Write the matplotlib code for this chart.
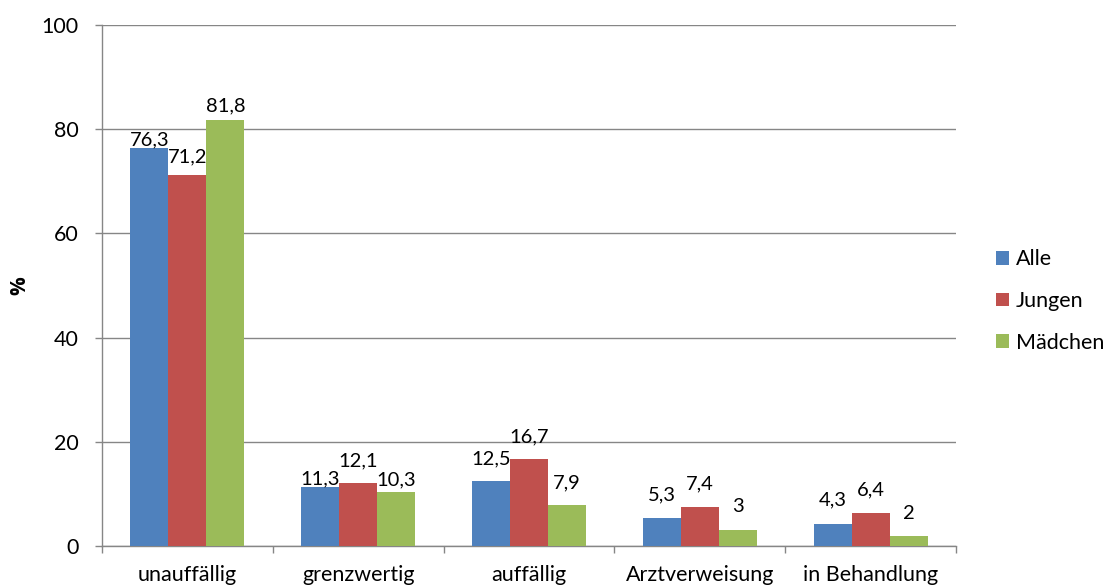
import matplotlib
matplotlib.use("Agg")
import matplotlib.pyplot as plt
import numpy as np

categories = ["unauffällig", "grenzwertig", "auffällig", "Arztverweisung", "in Behandlung"]
series_names = ["Alle", "Jungen", "Mädchen"]
alle = [76.3, 11.3, 12.5, 5.3, 4.3]
jungen = [71.2, 12.1, 16.7, 7.4, 6.4]
maedchen = [81.8, 10.3, 7.9, 3.0, 2.0]
y_ticks = [0, 20, 40, 60, 80, 100]

colors = ["#4F81BD", "#C0504D", "#9BBB59"]
# label vertical offsets (points) per series/category
label_offsets = [
    [0, 0, 10, 11, 11],
    [7, 10, 10, 11, 10],
    [4, 3, 10, 11, 10],
]

plt.rcParams['font.family'] = ['Lato', 'DejaVu Sans']

fig = plt.figure(figsize=(11.13, 5.87), dpi=100)
ax = fig.add_axes([102/1113, 1-546/587, (956-102)/1113, (546-25)/587])

x = np.arange(len(categories))
w = 1/4.5
data = [alle, jungen, maedchen]
gray = "#868686"

for i, (vals, name, c) in enumerate(zip(data, series_names, colors)):
    xs = x + (i-1)*w
    ax.bar(xs, vals, width=w, color=c, label=name, zorder=3)
    for j, (xx, v) in enumerate(zip(xs, vals)):
        lab = f"{v:g}".replace(".", ",")
        ax.annotate(lab, (xx, v), xytext=(0, label_offsets[i][j]),
                    textcoords="offset points", ha="center", va="bottom",
                    fontsize=14.5, color="black", zorder=4)

ax.set_xlim(-0.5, len(categories)-0.5)
ax.set_ylim(0, 100)
ax.set_yticks(y_ticks)
ax.set_yticklabels([str(t) for t in y_ticks], fontsize=15.5)
ax.yaxis.grid(True, color=gray, linewidth=1, zorder=0)
ax.set_axisbelow(True)

ax.set_xticks(np.arange(len(categories)+1)-0.5, minor=False)
ax.set_xticklabels([])
ax.set_xticks(x, minor=True)
ax.set_xticklabels(categories, minor=True, fontsize=15.5)
ax.tick_params(axis='x', which='minor', length=0, pad=14)
ax.tick_params(axis='x', which='major', length=5, color=gray, width=1)
ax.tick_params(axis='y', length=5, color=gray, width=1, pad=12)

for s in ["top", "right"]:
    ax.spines[s].set_visible(False)
for s in ["left", "bottom"]:
    ax.spines[s].set_color(gray)
    ax.spines[s].set_linewidth(1)

ax.set_ylabel("%", fontsize=15, fontweight="bold", family=['Open Sans', 'DejaVu Sans'])
ax.yaxis.set_label_coords(-72/854, 0.5)

leg = ax.legend(loc="center left", bbox_to_anchor=(1.037, (546-301)/521), frameon=False,
                fontsize=15.5, handlelength=0.6, handleheight=0.6,
                handletextpad=0.3, labelspacing=1.0, borderaxespad=0)

fig.savefig("out.png", dpi=100)
